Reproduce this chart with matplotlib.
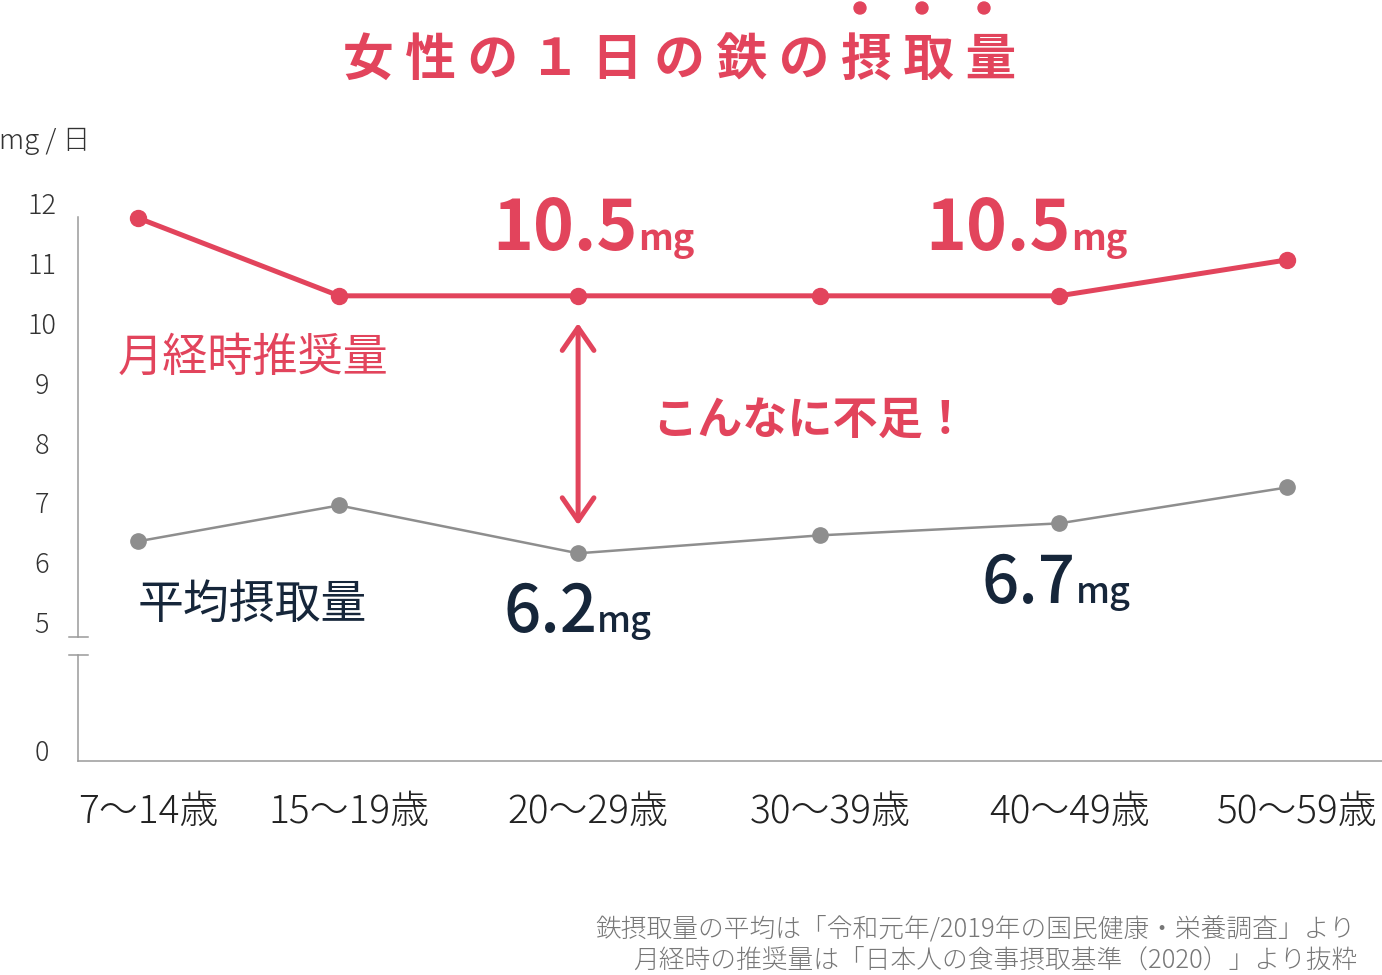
import matplotlib
matplotlib.use("Agg")
import matplotlib.pyplot as plt
from matplotlib.transforms import ScaledTranslation
from matplotlib.patches import Ellipse
import numpy as np

plt.rcParams['font.family'] = ['Noto Sans CJK JP', 'DejaVu Sans']

# ---- data ----
categories = ["7〜14歳", "15〜19歳", "20〜29歳", "30〜39歳", "40〜49歳", "50〜59歳"]
recommended = [11.8, 10.5, 10.5, 10.5, 10.5, 11.1]   # 月経時推奨量
average = [6.4, 7.0, 6.2, 6.5, 6.7, 7.3]             # 平均摂取量
y_ticks = [0, 5, 6, 7, 8, 9, 10, 11, 12]
y_tick_labels = ["0", "5", "6", "7", "8", "9", "10", "11", "12"]
title = "女 性 の １ 日 の 鉄 の 摂 取 量"
unit = "mg / 日"
note1 = "鉄摂取量の平均は「令和元年/2019年の国民健康・栄養調査」より"
note2 = "月経時の推奨量は「日本人の食事摂取基準（2020）」より抜粋"

# ---- layout ----
col_x = [0, 0.875, 1.915, 2.968, 4.008, 5.0]
RED = "#E2445C"
NAVY = "#16263A"
GRAY = "#8E8E8E"
AXC = "#9A9A9A"
K = 0.428  # compression of the 0-5 range


def fwd(v):
    v = np.asarray(v, dtype=float)
    return np.where(v >= 5, v, 5 - (5 - v) * K)


def inv(u):
    u = np.asarray(u, dtype=float)
    return np.where(u >= 5, u, 5 - (5 - u) / K)


W, H = 1382, 975
fig = plt.figure(figsize=(W / 100, H / 100), dpi=100)
ax = fig.add_axes([78 / W, (H - 761) / H, 1304 / W, 555 / H])
ax.set_yscale('function', functions=(fwd, inv))
ax.set_ylim(-0.30, 12)
ax.set_xlim(-0.261, 5.413)

for s in ['top', 'right', 'left']:
    ax.spines[s].set_visible(False)
ax.spines['bottom'].set_color(AXC)
ax.spines['bottom'].set_linewidth(1.1)

# broken y axis
yt = ax.get_yaxis_transform()
ax.plot([0, 0], [4.53, 11.82], color=AXC, lw=1.1, transform=yt, clip_on=False)
ax.plot([0, 0], [-0.30, 3.83], color=AXC, lw=1.1, transform=yt, clip_on=False)
for yb in (4.53, 3.83):
    ax.plot([-9 / 1304, 10 / 1304], [yb, yb], color=AXC, lw=1.1, transform=yt, clip_on=False)

ax.set_yticks(y_ticks)
ax.set_yticklabels(y_tick_labels)
ax.yaxis.set_minor_locator(matplotlib.ticker.NullLocator())
ax.tick_params(axis='y', length=0, pad=26, labelsize=19.5, labelcolor='#333333')
for lbl in ax.get_yticklabels():
    lbl.set_horizontalalignment('center')
    lbl.set_fontweight('light')
    lbl.set_transform(lbl.get_transform() + ScaledTranslation(0, 3 / 100, fig.dpi_scale_trans))

ax.set_xticks(col_x)
ax.set_xticklabels(categories)
ax.tick_params(axis='x', length=0, pad=23, labelsize=28, labelcolor='#222222')
for lbl in ax.get_xticklabels():
    lbl.set_transform(lbl.get_transform() + ScaledTranslation(10 / 100, 0, fig.dpi_scale_trans))
    lbl.set_fontweight('light')

# lines
ax.plot(col_x, recommended, color=RED, lw=3.6, marker='o', ms=11.5, zorder=3, clip_on=False)
ax.plot(col_x, average, color=GRAY, lw=1.8, marker='o', ms=11, zorder=3, clip_on=False)


# value labels
def value_label(x, y, num, color, weight, size):
    t = ax.text(x, y, num, transform=ax.transAxes, fontsize=size, color=color,
                fontweight=weight, ha='left', va='baseline')
    ax.annotate("mg", xy=(1, y), xycoords=(t, 'axes fraction'), xytext=(0, 0),
                textcoords='offset points', fontsize=26, color=color,
                fontweight=weight, ha='left', va='baseline')


value_label(0.318, 0.9207, "10.5", RED, 'bold', 50)
value_label(0.650, 0.9207, "10.5", RED, 'bold', 50)
value_label(0.326, 0.2324, "6.2", NAVY, 'medium', 47)
value_label(0.693, 0.2847, "6.7", NAVY, 'medium', 47)

ax.text(0.0307, 0.726, "月経時推奨量", transform=ax.transAxes, fontsize=32.5,
        color=RED, ha='left', va='center')
ax.text(0.046, 0.282, "平均摂取量", transform=ax.transAxes, fontsize=33,
        color=NAVY, fontweight='normal', ha='left', va='center')
ax.text(0.440, 0.612, "こんなに不足！", transform=ax.transAxes, fontsize=32.5,
        color=RED, fontweight='bold', ha='left', va='center')

ax.annotate("", xy=(col_x[2], 0.425), xycoords=('data', 'axes fraction'),
            xytext=(col_x[2], 0.789), textcoords=('data', 'axes fraction'),
            arrowprops=dict(arrowstyle='<->,head_length=0.55,head_width=0.38',
                            color=RED, lw=3.6, shrinkA=0, shrinkB=0,
                            mutation_scale=30, capstyle='round', joinstyle='round'))

# title and emphasis dots
fig.text(0.4915, 1 - 61 / H, title, ha='center', va='center', fontsize=36.5,
         color=RED, fontweight='bold')
for px in (860, 922, 984):
    fig.add_artist(Ellipse((px / W, 1 - 8 / H), 12 / W, 12 / H, color=RED))

fig.text(-0.001, 1 - 141 / H, unit, ha='left', va='center', fontsize=20,
         color='#333333', fontweight='light')

fig.text(1355 / W, 1 - 929 / H, note1, ha='right', va='center', fontsize=18.5,
         color='#777777', fontweight='light')
fig.text(1357 / W, 1 - 960 / H, note2, ha='right', va='center', fontsize=18.5,
         color='#777777', fontweight='light')

fig.savefig("out.png", dpi=100)
